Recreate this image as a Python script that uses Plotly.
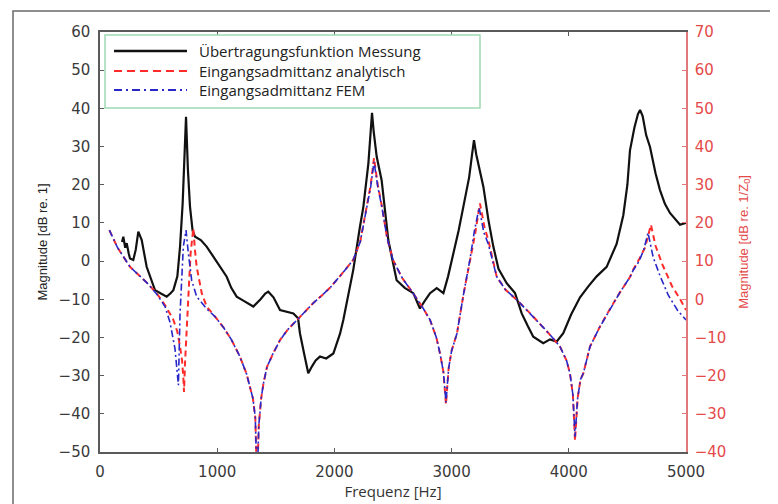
import plotly.graph_objects as go

# ---------------- data ----------------
meas_f = [188, 199, 215, 228, 245, 256, 284, 305, 327, 356, 398, 430, 469, 520, 569, 600, 626, 660,
          683, 705, 722, 734, 750, 768, 790, 811, 860, 910, 960, 996, 1040, 1081, 1120, 1166, 1230,
          1308, 1370, 1410, 1436, 1480, 1536, 1600, 1650, 1690, 1706, 1740, 1777, 1810, 1840, 1877,
          1930, 1991, 2048, 2076, 2120, 2161, 2218, 2247, 2290, 2310, 2321, 2335, 2361, 2403, 2430,
          2460, 2531, 2600, 2673, 2730, 2780, 2816, 2873, 2930, 2970, 3015, 3060, 3100, 3150, 3175,
          3191, 3210, 3228, 3271, 3314, 3356, 3400, 3470, 3541, 3598, 3650, 3697, 3782, 3840, 3896,
          3953, 4020, 4096, 4170, 4238, 4323, 4408, 4465, 4500, 4522, 4560, 4590, 4608, 4630, 4660,
          4693, 4740, 4778, 4820, 4863, 4949, 5000]
meas_db = [5.0, 6.4, 3.5, 4.7, 2.0, 0.7, 0.3, 3.0, 7.7, 5.5, -1.5, -4.5, -7.6, -8.5, -9.3, -8.5, -7.6, -4.0,
           3.8, 15.0, 28.0, 37.8, 24.0, 14.2, 8.0, 6.4, 5.5, 3.8, 1.5, -0.2, -2.0, -4.1, -7.0, -9.3, -10.5,
           -11.9, -10.0, -8.5, -8.0, -9.5, -12.8, -13.2, -13.7, -15.0, -18.9, -24.0, -29.4, -27.5, -26.0, -25.0,
           -25.5, -24.2, -19.0, -15.4, -9.0, -2.3, 9.0, 14.2, 25.6, 33.0, 38.8, 34.0, 27.3, 21.2, 13.0,
           5.5, -5.0, -7.0, -8.4, -12.4, -10.0, -8.4, -7.1, -8.4, -4.0, 2.0, 8.0, 14.2, 22.0, 28.0,
           31.7, 28.0, 25.6, 19.5, 10.8, 3.8, -2.0, -5.8, -8.4, -13.7, -17.0, -19.8, -21.5, -20.5, -21.1,
           -18.9, -14.0, -9.5, -6.5, -4.0, -1.5, 4.5, 12.0, 20.0, 29.0, 35.0, 38.5, 39.6, 38.0, 33.0,
           29.9, 23.0, 18.6, 15.0, 12.6, 9.5, 10.0]

ana_f = [80, 150, 256, 401, 483, 560, 626, 660, 683, 700, 712, 717, 725, 734, 754, 773, 796, 810, 825,
         868, 910, 980, 1052, 1120, 1195, 1250, 1280, 1305, 1325, 1340, 1355, 1375, 1395, 1425, 1480,
         1536, 1600, 1680, 1750, 1820, 1900, 1962, 2060, 2160, 2220, 2276, 2310, 2338, 2370, 2406, 2450,
         2500, 2580, 2671, 2750, 2816, 2870, 2901, 2930, 2952, 2975, 3000, 3046, 3100, 3157, 3200, 3242,
         3280, 3313, 3385, 3460, 3558, 3680, 3780, 3860, 3925, 3980, 4010, 4035, 4053, 4075, 4100, 4124,
         4181, 4260, 4352, 4440, 4522, 4548, 4600, 4650, 4701, 4740, 4800, 4880, 4950, 5000]
ana_db = [18.1, 13.5, 8.5, 4.3, 1.6, -1.8, -5.4, -8.5, -12.4, -16.0, -21.0, -24.3, -17.0, -12.4, 0.7, 12.0, 18.6, 13.0, 8.5,
          1.6, -1.9, -4.5, -7.3, -10.5, -15.1, -19.5, -22.9, -26.0, -31.0, -48.0, -33.0, -26.0, -22.0, -17.7, -14.0,
          -10.7, -8.0, -5.4, -3.0, -1.0, 1.2, 3.0, 6.5, 10.3, 15.0, 24.2, 30.0, 37.0, 30.0, 24.2, 16.0,
          10.3, 5.5, 1.6, -2.0, -5.4, -10.0, -14.2, -19.0, -27.5, -18.0, -13.5, -8.9, 1.0, 10.3, 17.0, 25.1,
          19.0, 15.5, 5.9, 2.5, -0.2, -4.0, -7.3, -10.0, -12.4, -16.0, -19.4, -25.0, -37.0, -26.0, -21.0, -19.4,
          -12.4, -7.5, -2.5, 2.0, 5.8, 7.7, 10.5, 13.5, 19.5, 14.0, 9.0, 3.5, 0.0, -2.8]

fem_f = [80, 150, 256, 401, 483, 555, 597, 640, 669, 683, 711, 734, 754, 782, 825, 870, 910, 980, 1052,
         1120, 1195, 1250, 1280, 1305, 1325, 1340, 1355, 1375, 1395, 1425, 1480, 1536, 1600, 1680, 1750,
         1820, 1900, 1962, 2060, 2160, 2220, 2276, 2310, 2338, 2370, 2406, 2450, 2500, 2580, 2671, 2750,
         2816, 2870, 2901, 2930, 2952, 2975, 3000, 3046, 3100, 3157, 3195, 3235, 3275, 3313, 3385, 3460,
         3558, 3680, 3780, 3860, 3925, 3980, 4010, 4035, 4053, 4075, 4100, 4124, 4181, 4260, 4352, 4440,
         4522, 4548, 4600, 4640, 4676, 4720, 4780, 4850, 4930, 5000]
fem_db = [18.1, 13.5, 8.5, 4.3, 1.4, -1.9, -6.0, -13.0, -22.5, -3.7, 13.8, 18.1, 12.0, 5.0, 0.7, -1.0, -2.5, -4.5, -7.3,
          -10.5, -15.1, -19.5, -22.9, -26.0, -31.0, -48.0, -33.0, -26.0, -22.0, -17.7, -14.0, -10.7, -8.0, -5.4, -3.0,
          -1.0, 1.2, 3.0, 6.5, 10.3, 15.0, 24.0, 29.5, 36.0, 29.5, 24.0, 16.0, 10.3, 5.5, 1.6, -2.0,
          -5.4, -10.0, -14.2, -19.0, -27.0, -18.0, -13.5, -8.9, 1.0, 10.5, 18.0, 24.0, 17.5, 14.5, 5.9, 2.5,
          -0.2, -4.0, -7.3, -10.0, -12.4, -16.0, -19.4, -25.0, -36.0, -26.0, -21.0, -19.4, -12.4, -7.5, -2.5, 2.0,
          5.8, 7.5, 10.0, 13.0, 17.4, 11.0, 6.0, 1.0, -3.0, -5.4]

legend_names = ["Übertragungsfunktion Messung", "Eingangsadmittanz analytisch", "Eingangsadmittanz FEM"]
x_ticks = [0, 1000, 2000, 3000, 4000, 5000]
y_left_ticks = list(range(-50, 61, 10))
y_right_ticks = list(range(-40, 71, 10))

# ---------------- styles ----------------
BLACK = "#111111"
RED = "#ff2a2a"
BLUE = "#2828c8"
AXIS_GREY = "#5a5a5a"
RIGHT_AXIS = "#e07a7a"
RIGHT_TEXT = "#e44a4a"
TICK_FONT = "DejaVu Sans"
LEGEND_FONT = "Open Sans"
NARROW = "Liberation Sans Narrow, Arial Narrow, Liberation Sans"

# the page body has an 8 px margin, so the figure is drawn 8 px right/down
OFF = 8
L, R, T, B = 100, 686, 32, 452          # plot area in screen pixels
W, H = R - L, B - T

fig = go.Figure()
fig.add_trace(go.Scatter(x=meas_f, y=meas_db, mode="lines", name=legend_names[0],
                         line=dict(color=BLACK, width=2.2), yaxis="y", showlegend=False))
fig.add_trace(go.Scatter(x=ana_f, y=ana_db, mode="lines", name=legend_names[1],
                         line=dict(color=RED, width=2, dash="6px,4px"), yaxis="y2", showlegend=False))
fig.add_trace(go.Scatter(x=fem_f, y=fem_db, mode="lines", name=legend_names[2],
                         line=dict(color=BLUE, width=1.6, dash="7px,3px,2px,3px"), yaxis="y2", showlegend=False))

def px(xp):
    return (xp - L) / W
def py(yp):
    return (B - yp) / H

shapes = []
# outer frame of the figure
shapes.append(dict(type="rect", xref="paper", yref="paper", x0=px(13), x1=px(775), y0=py(530), y1=py(11),
                   line=dict(color="#6a6a6a", width=1.5), layer="below"))
# legend box
shapes.append(dict(type="rect", xref="paper", yref="paper", x0=px(105), x1=px(480), y0=py(108), y1=py(35),
                   line=dict(color="#9fd9b4", width=1.5), fillcolor="white", layer="above"))
rows = [51, 71, 90]
styles = [dict(color=BLACK, width=2.5), dict(color=RED, width=2.2, dash="8px,5px"),
          dict(color=BLUE, width=2, dash="8px,4px,2px,4px")]
annotations = []
for yrow, st, name in zip(rows, styles, legend_names):
    shapes.append(dict(type="line", xref="paper", yref="paper", x0=px(114), x1=px(187), y0=py(yrow), y1=py(yrow),
                       line=st, layer="above"))
    annotations.append(dict(xref="paper", yref="paper", x=px(197), y=py(yrow), text=name, showarrow=False,
                            xanchor="left", yanchor="middle", font=dict(family=LEGEND_FONT, size=15, color="#222222")))

fig.update_layout(
    width=778, height=504,
    margin=dict(l=L - OFF, r=778 - (R - OFF), t=T - OFF, b=504 - (B - OFF)),
    paper_bgcolor="white", plot_bgcolor="white",
    showlegend=False,
    shapes=shapes, annotations=annotations,
    xaxis=dict(range=[0, 5000], tickvals=x_ticks, ticks="inside", ticklen=4, tickwidth=1.2,
               tickcolor=AXIS_GREY, showline=True, linecolor=AXIS_GREY, linewidth=1.5, mirror="ticks",
               showgrid=False, zeroline=False, ticklabelstandoff=5,
               tickfont=dict(family=TICK_FONT, size=15, color="#3a3a3a"),
               title=dict(text="Frequenz [Hz]", font=dict(family=LEGEND_FONT, size=15, color="#333333"), standoff=7)),
    yaxis=dict(range=[-50, 60], tickvals=y_left_ticks, ticks="inside", ticklen=4, tickwidth=1.2,
               tickcolor=AXIS_GREY, showline=True, linecolor=AXIS_GREY, linewidth=1.5,
               showgrid=False, zeroline=False, ticklabelstandoff=5,
               tickfont=dict(family=TICK_FONT, size=15, color="#3a3a3a"),
               title=dict(text="Magnitude [dB re. 1]", font=dict(family=NARROW, size=13, color="#222222"), standoff=8)),
    yaxis2=dict(range=[-40, 70], tickvals=y_right_ticks, overlaying="y", side="right", anchor="x",
                ticks="inside", ticklen=4, tickwidth=1.2, tickcolor=RIGHT_AXIS,
                showline=True, linecolor=RIGHT_AXIS, linewidth=1.5, ticklabelstandoff=4,
                showgrid=False, zeroline=False,
                tickfont=dict(family=TICK_FONT, size=15, color=RIGHT_TEXT),
                title=dict(text="Magnitude [dB re. 1/Z<sub>0</sub>]", font=dict(family=NARROW, size=13, color=RIGHT_TEXT),
                           standoff=13)),
)

fig.write_html("out.html")
